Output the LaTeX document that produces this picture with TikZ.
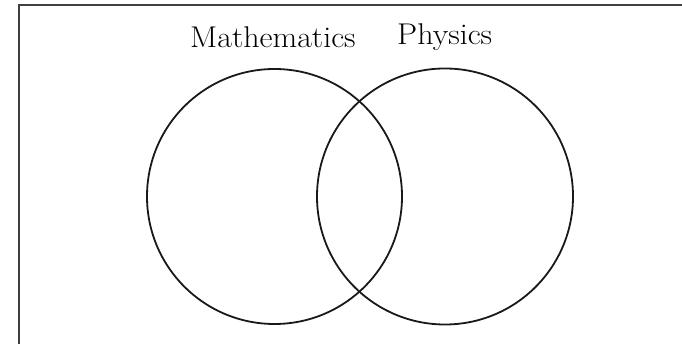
\documentclass[tikz,border=0pt]{standalone}
\begin{document}
\begin{tikzpicture}[x=1pt,y=-1pt,
  setcircle/.style={draw=black!90, line width=1.8pt, circle, minimum size=255pt, inner sep=0pt},
  setlabel/.style={inner sep=0pt, anchor=base west, font=\fontsize{30}{34}\selectfont},
  frameline/.style={draw=black!75, line width=2pt}]
\useasboundingbox (0,0) rectangle (682,344);
\coordinate (fbl) at (18.5,346);
\coordinate (ftl) at (18.5,5);
\coordinate (ftr) at (684,5);
\draw[frameline] (fbl) -- (ftl) -- (ftr);
\node[setcircle] (math) at (274.5,196.5) {};
\node[setcircle, minimum size=256pt] (phys) at (445,196.5) {};
\node[setlabel] (mathlabel) at (190,48) {\scalebox{1.065}[1]{Mathematics}};
\node[setlabel] (physlabel) at (397,45) {\scalebox{1.065}[1]{Physics}};
\end{tikzpicture}
\end{document}
